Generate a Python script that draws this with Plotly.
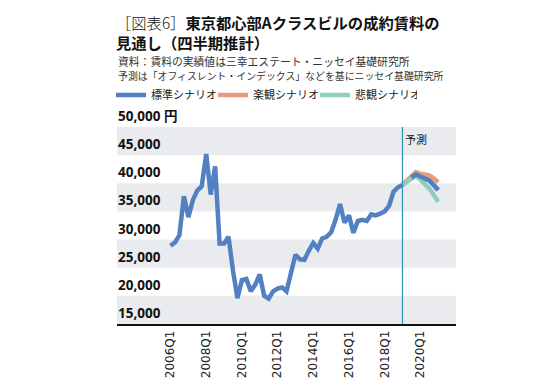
import plotly.graph_objects as go

# ---- data -------------------------------------------------------------
quarters = [f"{y}Q{q}" for y in range(2006, 2022) for q in range(1, 5)][:61]  # 2006Q1 .. 2021Q1

actual = [28900, 29500, 30800, 37700, 34000, 37000, 38700, 39500, 45200, 38000,
          43000, 29300, 29300, 30500, 24500, 19600, 22800, 23000, 20800, 22000,
          23800, 20000, 19500, 20800, 21300, 21500, 20800, 24500, 27300, 26500,
          26400, 28000, 29400, 28400, 30200, 30500, 31300, 33500, 36300, 33000,
          34300, 31200, 33300, 33500, 33300, 34500, 34300, 34600, 35000, 36000,
          38500, 39300, 39700]                      # 2006Q1 .. 2019Q1
standard = [39700, 40400, 41000, 41600, 41200, 40900, 40500, 39700, 38800]   # 2019Q1 .. 2021Q1
optimistic = [39700, 40500, 41300, 42000, 41700, 41500, 41400, 40900, 40200]
pessimistic = [39700, 40300, 40800, 41300, 40700, 40000, 39100, 37900, 36700]

forecast_start = "2019Q1"
series_names = ["標準シナリオ", "楽観シナリオ", "悲観シナリオ"]

y_ticks = [15000, 20000, 25000, 30000, 35000, 40000, 45000, 50000]
y_tick_labels = ["15,000", "20,000", "25,000", "30,000", "35,000", "40,000", "45,000", "50,000 円"]
x_ticks = ["2006Q1", "2008Q1", "2010Q1", "2012Q1", "2014Q1", "2016Q1", "2018Q1", "2020Q1"]

title_lines = ["<span style='font-weight:300'>［図表6］</span><b>東京都心部Aクラスビルの成約賃料の</b>",
               "<b>見通し（四半期推計）</b>"]
source_lines = ["資料：賃料の実績値は三幸エステート・ニッセイ基礎研究所",
                "予測は「オフィスレント・インデックス」などを基にニッセイ基礎研究所"]
forecast_label = "予測"

# ---- style ------------------------------------------------------------
BLUE, ORANGE, TEAL = "#5281c2", "#ea9b7c", "#8ccfbf"
BAND = "#e9ebee"
JP = "Noto Sans CJK JP"
OFF = 8                      # page body margin of the html page
W, H = 557 - 2 * OFF, 391 - 2 * OFF
L, R, T, B = 117 - OFF, (557 - OFF) - 456, 127 - OFF, (391 - OFF) - 324
PW, PH = W - L - R, H - T - B


def px_to_paper(xp, yp):
    """window pixel -> paper coordinates"""
    return (xp - OFF - L) / PW, (H - B - (yp - OFF)) / PH


i0 = quarters.index(forecast_start)
fc_x = quarters[i0:i0 + len(standard)]

fig = go.Figure()
fig.add_trace(go.Scatter(x=quarters[:len(actual)] + fc_x[1:], y=actual + standard[1:],
                         mode="lines", name=series_names[0],
                         line=dict(color=BLUE, width=4.5)))
fig.add_trace(go.Scatter(x=fc_x, y=optimistic, mode="lines", name=series_names[1],
                         line=dict(color=ORANGE, width=4.5)))
fig.add_trace(go.Scatter(x=fc_x, y=pessimistic, mode="lines", name=series_names[2],
                         line=dict(color=TEAL, width=4.5)))
# redraw standard scenario on top of the other scenarios
fig.add_trace(go.Scatter(x=fc_x[2:], y=standard[2:], mode="lines", showlegend=False,
                         line=dict(color=BLUE, width=4.5), hoverinfo="skip"))

# alternating bands
shapes = []
for lo, hi in zip(y_ticks[:-1:2], y_ticks[1::2]):
    shapes.append(dict(type="rect", xref="paper", yref="y", x0=0, x1=1, y0=lo, y1=hi,
                       fillcolor=BAND, line_width=0, layer="below"))
shapes.append(dict(type="line", xref="x", yref="paper", x0=i0, x1=i0, y0=0, y1=1,
                   line=dict(color="#2f93b6", width=1.2)))

annotations = []
for v, t in zip(y_ticks, y_tick_labels):
    annotations.append(dict(xref="paper", yref="y", x=0, y=v, text=t, showarrow=False,
                            xanchor="left", yanchor="bottom", xshift=-1, yshift=0,
                            font=dict(family="Noto Sans, " + JP, size=13.5, color="#111", weight="bold")))
annotations.append(dict(xref="x", yref="paper", x=i0, y=1, text=forecast_label, showarrow=False,
                        xanchor="left", yanchor="top", xshift=1, yshift=-2,
                        font=dict(family=JP, size=11, color="#111")))
for k, line in enumerate(title_lines):
    ax, ay = px_to_paper(114, 21.5 + 20.5 * k)
    annotations.append(dict(xref="paper", yref="paper", x=ax, y=ay,
                            text=line, showarrow=False, xanchor="left", yanchor="middle",
                            font=dict(family=JP, size=15.3, color="#111")))
for k, (line, fs) in enumerate(zip(source_lines, [10.8, 9.9])):
    ax, ay = px_to_paper(116, 61 + 15 * k)
    annotations.append(dict(xref="paper", yref="paper", x=ax, y=ay,
                            text=line, showarrow=False, xanchor="left", yanchor="middle",
                            font=dict(family=JP, size=fs, color="#333")))

fig.update_layout(
    template="none",
    width=W, height=H,
    margin=dict(l=L, r=R, t=T, b=B, autoexpand=False),
    paper_bgcolor="white", plot_bgcolor="white",
    showlegend=True,
    legend=dict(orientation="h", xref="container", yref="container",
                x=(117 - OFF - 6) / W, xanchor="left", y=1 - (95 - OFF) / H, yanchor="middle",
                font=dict(family=JP, size=11, color="#222"), entrywidth=57, itemwidth=30,
                bgcolor="rgba(0,0,0,0)", tracegroupgap=0),
    shapes=shapes, annotations=annotations,
    xaxis=dict(type="category", categoryorder="array", categoryarray=quarters,
               range=[-12, 64], tickvals=x_ticks, ticktext=x_ticks, tickangle=-90,
               showgrid=False, zeroline=False, showline=True, linecolor="#111", linewidth=1.5,
               ticks="", automargin=False, tickfont=dict(family="DejaVu Sans", size=12, color="#222")),
    yaxis=dict(range=[15000, 50000], showticklabels=False, showgrid=False, zeroline=False,
               ticks="", automargin=False, fixedrange=True),
)

fig.write_html("out.html")
